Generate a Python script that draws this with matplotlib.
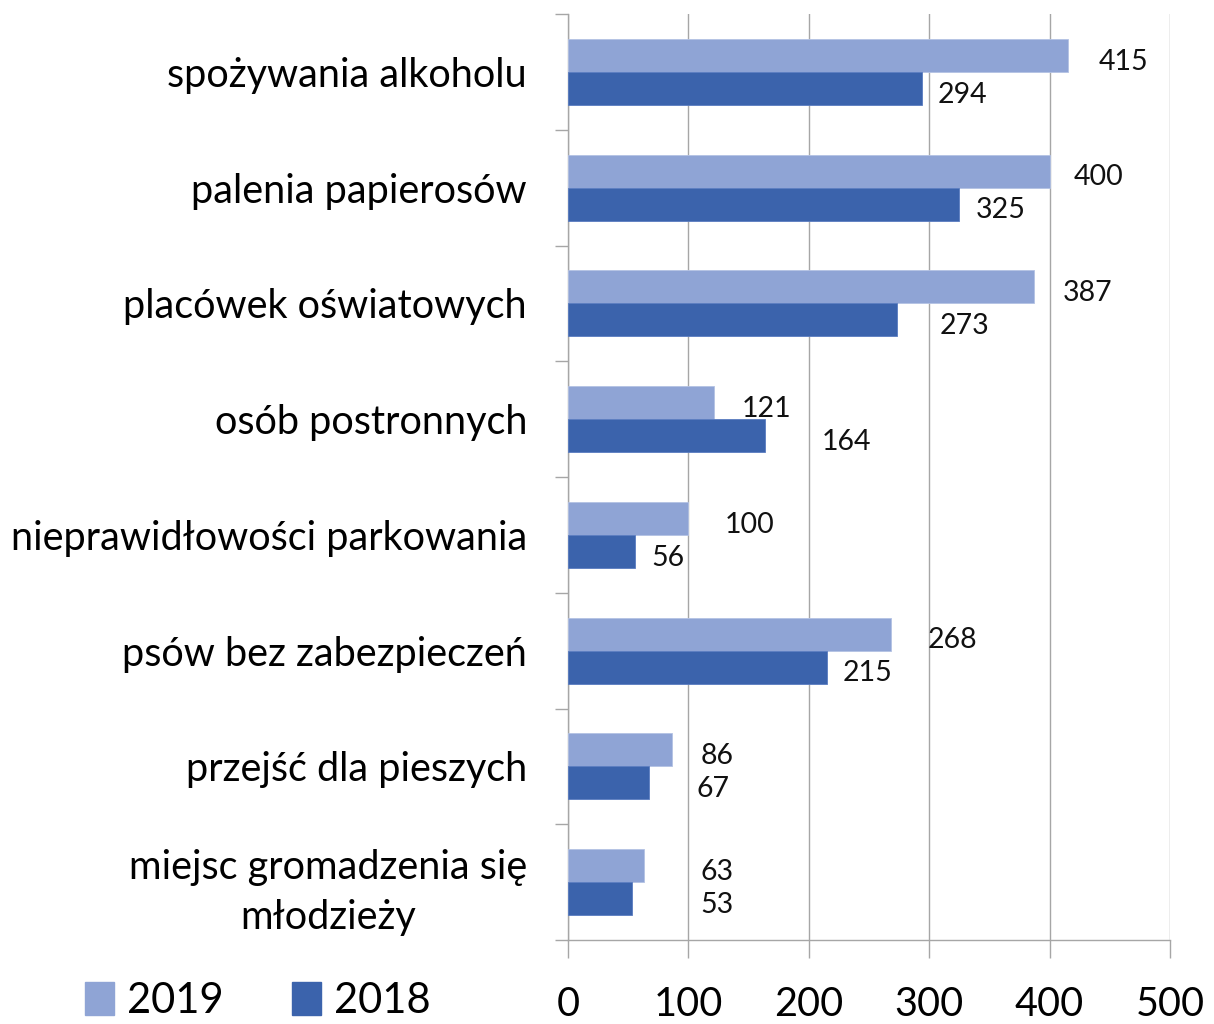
import matplotlib
matplotlib.use("Agg")
import matplotlib.pyplot as plt
from matplotlib.patches import Patch
from matplotlib.transforms import offset_copy
import numpy as np

plt.rcParams['font.family'] = ['Lato', 'DejaVu Sans']

categories = [
    "spożywania alkoholu",
    "palenia papierosów",
    "placówek oświatowych",
    "osób postronnych",
    "nieprawidłowości parkowania",
    "psów bez zabezpieczeń",
    "przejść dla pieszych",
    "miejsc gromadzenia się\nmłodzieży",
]
values_2019 = [415, 400, 387, 121, 100, 268, 86, 63]
values_2018 = [294, 325, 273, 164, 56, 215, 67, 53]
series_labels = ["2019", "2018"]
x_ticks = [0, 100, 200, 300, 400, 500]

# label horizontal offsets (value units) as placed in the original
label_dx_2019 = [26, 20, 24, 23, 30, 31, 24, 47]
label_dx_2018 = [13, 14, 36, 47, 13, 13, 40, 57]

c19 = "#8FA4D5"
c18 = "#3B63AC"
grid_c = "#A6A6A6"

W, H = 1214, 1024
fig = plt.figure(figsize=(W / 100, H / 100), dpi=100)
ax = fig.add_axes([568 / W, 1 - 940 / H, (1170 - 568) / W, (940 - 14) / H])

n = len(categories)
y = np.arange(n)
bh = 0.285
ax.barh(y - bh / 2, values_2019, height=bh, color=c19, edgecolor="#B4C2E4", linewidth=0.6, zorder=3)
ax.barh(y + bh / 2, values_2018, height=bh, color=c18, edgecolor="#5A7CC0", linewidth=0.6, zorder=3)

lab_tr = offset_copy(ax.transData, fig=fig, x=0, y=-4.5, units="points")
for i in range(n):
    ax.text(values_2019[i] + label_dx_2019[i], y[i] - bh / 2, str(values_2019[i]),
            ha="left", va="center", fontsize=20.5, color="#111111", zorder=4,
            transform=lab_tr)
    ax.text(values_2018[i] + label_dx_2018[i], y[i] + bh / 2, str(values_2018[i]),
            ha="left", va="center", fontsize=20.5, color="#111111", zorder=4,
            transform=lab_tr)

ax.set_xlim(0, 500)
ax.set_ylim(n - 0.5, -0.5)

ax.set_xticks(x_ticks)
ax.set_xticklabels([str(t) for t in x_ticks])
ax.tick_params(axis="x", length=13, width=1, color=grid_c, direction="out",
               pad=20, labelsize=28.5)
ax.grid(axis="x", color=grid_c, linewidth=1, zorder=0)

ax.set_yticks(y)
ax.set_yticklabels(categories, multialignment="center", linespacing=1.45)
ax.set_yticks(np.arange(-0.5, n, 1.0), minor=True)
ax.tick_params(axis="y", which="major", length=0, pad=29.5, labelsize=28.5)
ax.tick_params(axis="y", which="minor", length=9.5, width=1, color=grid_c, direction="out")

for s in ["top", "right"]:
    ax.spines[s].set_visible(False)
ax.spines["left"].set_color(grid_c)
ax.spines["bottom"].set_color(grid_c)
ax.spines["left"].set_linewidth(1)
ax.spines["bottom"].set_linewidth(1)
ax.set_axisbelow(True)

handles = [Patch(facecolor=c19, edgecolor=c19), Patch(facecolor=c18, edgecolor=c18)]
fig.legend(handles, series_labels, loc="center left",
           bbox_to_anchor=(85 / W, 1 - 1001 / H), ncol=2, frameon=False,
           fontsize=30, handlelength=0.7, handleheight=0.85, handletextpad=0.3,
           columnspacing=1.65, borderpad=0, borderaxespad=0)

fig.savefig("out.png", dpi=100)
